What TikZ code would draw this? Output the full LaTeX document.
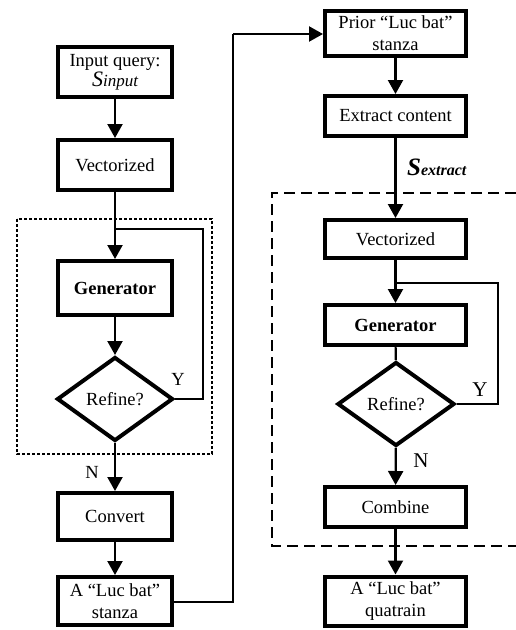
\documentclass[tikz,border=0pt]{standalone}
\usepackage{fontspec}
\setmainfont{Liberation Serif}
\usetikzlibrary{arrows.meta,shapes.geometric}

\begin{document}
\begin{tikzpicture}[x=1pt,y=-1pt,
  every node/.style={font=\fontsize{18.5}{22}\selectfont},
  box/.style={draw,line width=4pt,rectangle,align=center,inner sep=0pt},
  lbox/.style={box,minimum width=114pt},
  rbox/.style={box,minimum width=141pt},
  decide/.style={draw,line width=4pt,diamond,inner sep=0pt,
    minimum width=116pt,minimum height=84pt},
  flow/.style={line width=2.2pt,-{Triangle[length=14pt,width=15pt]}},
  link/.style={line width=2.2pt},
  loop/.style={line width=1.4pt},
  lbl/.style={inner sep=0pt},
  biglbl/.style={inner sep=0pt,font=\fontsize{21}{22}\selectfont}]
\useasboundingbox (0,0) rectangle (516,630);

% left column
\node[lbox,minimum height=50pt] (inq) at (115,72)
  {Input query:\\[-2pt]{\itshape{\fontsize{22}{22}\selectfont S}{\fontsize{17}{22}\selectfont input}}};
\node[lbox,minimum height=50pt] (vec1) at (115,165) {Vectorized};
\node[lbox,minimum height=54pt] (gen1) at (115,288) {\bfseries Generator};
\node[decide] (ref1) at (115,399) {Refine?};
\node[lbox,minimum height=47pt] (conv) at (115,516.5) {Convert};
\node[lbox,minimum height=48pt] (stz) at (115,601) {A ``Luc bat''\\stanza};

% dotted frame around the refinement loop
\draw[line width=1.6pt,dash pattern=on 3pt off 2pt] (17,219) rectangle (212,454);

\coordinate (j1) at (115,229);
\coordinate (c1) at (203,229);
\coordinate (c2) at (203,399);

\draw[flow] (inq) -- (vec1);
\draw[flow] (vec1) -- (gen1);
\draw[flow] (gen1) -- (ref1);
\draw[loop] (ref1.east) -- (c2) -- (c1) -- (j1);
\draw[flow] (ref1) -- (conv);
\draw[flow] (conv) -- (stz);
\node[lbl] (ylab1) at (178,379) {Y};
\node[lbl] (nlab1) at (92,472) {N};

% right column
\node[rbox,minimum height=45pt] (prior) at (395.5,33.5) {Prior ``Luc bat''\\stanza};
\node[rbox,minimum height=40pt] (ext) at (395.5,116) {Extract content};
\node[rbox,minimum height=38pt] (vec2) at (395.5,239) {Vectorized};
\node[rbox,minimum height=40pt] (gen2) at (395.5,325) {\bfseries Generator};
\node[decide,minimum width=117pt] (ref2) at (396,404) {Refine?};
\node[rbox,minimum height=40pt] (comb) at (395.5,507) {Combine};
\node[rbox,minimum height=49pt] (quat) at (395.5,601) {A ``Luc bat''\\quatrain};

% dashed frame, open towards the right edge
\draw[line width=1.6pt,dash pattern=on 11pt off 6pt]
  (516,193) -- (272,193) -- (272,546) -- (516,546);

\coordinate (s1) at (233,602);
\coordinate (s2) at (233,34);
\draw[link] (stz.east |- s1) -- (s1) -- (s2)
  edge[flow] (prior.west |- s2);

\coordinate (j2) at (395.5,283);
\coordinate (d1) at (498,283);
\coordinate (d2) at (498,404);

\draw[flow] (prior) -- (ext);
\draw[flow] (ext) -- (vec2);
\draw[flow] (vec2) -- (gen2);
\draw[link] (gen2) -- (ref2);
\draw[loop] (ref2.east) -- (d2) -- (d1) -- (j2);
\draw[flow] (ref2) -- (comb);
\draw[flow] (comb) -- (quat);

\node[lbl,anchor=west] (sext) at (407,167)
  {\bfseries\itshape{\fontsize{25}{22}\selectfont S}{\fontsize{16}{22}\selectfont extract}};
\node[biglbl] (ylab2) at (480,390) {Y};
\node[biglbl] (nlab2) at (421,461) {N};
\end{tikzpicture}
\end{document}
